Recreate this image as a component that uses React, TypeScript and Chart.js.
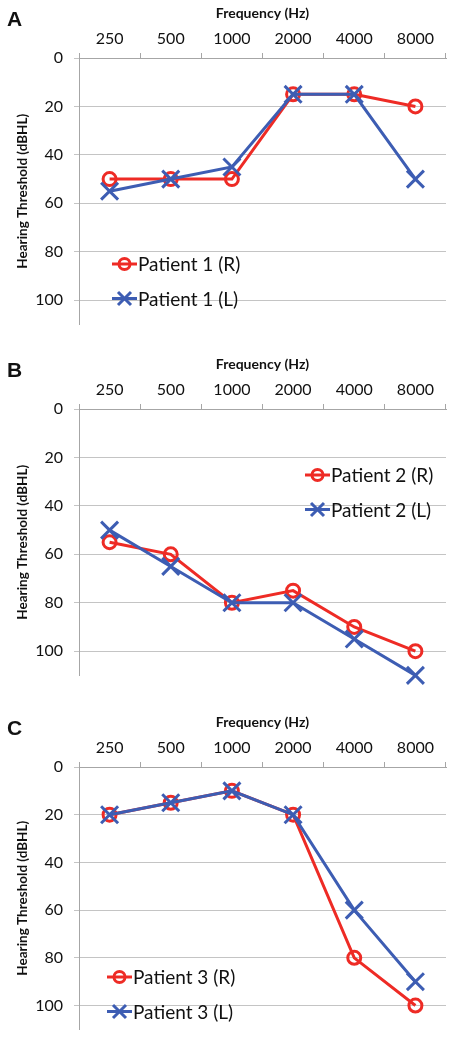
import React, { useEffect, useRef } from "react";
import { Chart, registerables } from "chart.js";

Chart.register(...registerables);

const frequencies = ["250", "500", "1000", "2000", "4000", "8000"];
const yTicks = [0, 20, 40, 60, 80, 100];

const patient1Right = [50, 50, 50, 15, 15, 20];
const patient1Left = [55, 50, 45, 15, 15, 50];
const patient2Right = [55, 60, 80, 75, 90, 100];
const patient2Left = [50, 65, 80, 80, 95, 110];
const patient3Right = [20, 15, 10, 20, 80, 100];
const patient3Left = [20, 15, 10, 20, 60, 90];

const RED = "#ee2b25";
const BLUE = "#3d5db3";
const FONT = "Lato, 'Open Sans', sans-serif";

type PanelCfg = {
  letter: string;
  top: number;
  height: number;
  right: number[];
  left: number[];
  names: [string, string];
  legendX: number;
  legendY: number;
};

const panels: PanelCfg[] = [
  { letter: "A", top: 0, height: 345, right: patient1Right, left: patient1Left, names: ["Patient 1 (R)", "Patient 1 (L)"], legendX: 33, legendY: 206 },
  { letter: "B", top: 351, height: 345, right: patient2Right, left: patient2Left, names: ["Patient 2 (R)", "Patient 2 (L)"], legendX: 226, legendY: 66 },
  { letter: "C", top: 709, height: 341, right: patient3Right, left: patient3Left, names: ["Patient 3 (R)", "Patient 3 (L)"], legendX: 28, legendY: 210 },
];

const legendPlugin = {
  id: "insideLegend",
  afterDraw(chart: any, _args: any, opts: any) {
    const { ctx, chartArea } = chart;
    const x0 = chartArea.left + opts.x;
    let y = chartArea.top + opts.y;
    const order = [1, 0];
    order.forEach((di: number) => {
      const ds = chart.data.datasets[di];
      ctx.save();
      ctx.strokeStyle = ds.borderColor;
      ctx.lineWidth = 3;
      ctx.beginPath();
      ctx.moveTo(x0, y);
      ctx.lineTo(x0 + 25, y);
      ctx.stroke();
      const cx = x0 + 12.5;
      ctx.beginPath();
      if (ds.pointStyle === "circle") {
        ctx.arc(cx, y, 5.5, 0, Math.PI * 2);
      } else {
        const r = 6.5;
        ctx.moveTo(cx - r, y - r);
        ctx.lineTo(cx + r, y + r);
        ctx.moveTo(cx + r, y - r);
        ctx.lineTo(cx - r, y + r);
      }
      ctx.stroke();
      ctx.fillStyle = "#111";
      ctx.font = `19px ${FONT}`;
      ctx.textAlign = "left";
      ctx.textBaseline = "middle";
      ctx.fillText(ds.label, x0 + 26, y + 1);
      ctx.restore();
      y += 34.5;
    });
  },
};

function Panel({ cfg }: { cfg: PanelCfg }) {
  const ref = useRef<HTMLCanvasElement | null>(null);
  useEffect(() => {
    if (!ref.current) return;
    const chart = new Chart(ref.current, {
      type: "line",
      data: {
        labels: frequencies,
        datasets: [
          {
            label: cfg.names[1],
            data: cfg.left,
            borderColor: BLUE,
            backgroundColor: BLUE,
            borderWidth: 3,
            pointStyle: "crossRot",
            pointRadius: 12,
            pointBorderWidth: 3,
            pointBorderColor: BLUE,
            tension: 0,
            clip: false,
          },
          {
            label: cfg.names[0],
            data: cfg.right,
            borderColor: RED,
            backgroundColor: "rgba(0,0,0,0)",
            borderWidth: 3,
            pointStyle: "circle",
            pointRadius: 6.5,
            pointBorderWidth: 3,
            pointBorderColor: RED,
            pointBackgroundColor: "rgba(0,0,0,0)",
            tension: 0,
            clip: false,
          },
        ],
      },
      options: {
        animation: false,
        responsive: false,
        maintainAspectRatio: false,
        layout: { padding: { left: 0, top: 0, right: 10, bottom: cfg.height - 58 - 275 } },
        plugins: {
          legend: { display: false },
          tooltip: { enabled: false },
          insideLegend: { x: cfg.legendX, y: cfg.legendY },
        } as any,
        scales: {
          x: {
            position: "top",
            offset: true,
            afterFit: (s: any) => {
              s.height = 58;
            },
            grid: {
              offset: true,
              drawOnChartArea: false,
              drawTicks: true,
              tickLength: 5,
              color: "#a6a6a6",
            },
            border: { display: true, color: "#a6a6a6" },
            ticks: {
              color: "#111",
              font: { family: FONT, size: 16 },
              padding: 5,
              maxRotation: 0,
            },
            title: {
              display: true,
              text: "Frequency (Hz)",
              color: "#111",
              font: { family: FONT, size: 14, weight: "bold" },
              padding: { top: 5, bottom: 0 },
            },
          },
          y: {
            reverse: true,
            min: 0,
            max: 110,
            afterFit: (s: any) => {
              s.width = 79;
            },
            afterBuildTicks: (s: any) => {
              s.ticks = yTicks.map((v) => ({ value: v }));
            },
            grid: {
              color: "#c4c4c4",
              drawTicks: true,
              tickLength: 5,
              lineWidth: 1,
            },
            border: { display: true, color: "#a6a6a6" },
            ticks: {
              color: "#111",
              font: { family: FONT, size: 16 },
              padding: 11,
            },
            title: {
              display: true,
              text: "Hearing Threshold (dBHL)",
              color: "#111",
              font: { family: FONT, size: 13.5, weight: "bold" },
              padding: { top: 15, bottom: 0 },
            },
          },
        },
      },
      plugins: [legendPlugin],
    });
    return () => chart.destroy();
  }, [cfg]);

  return (
    <div style={{ position: "absolute", left: 0, top: cfg.top, width: 461, height: cfg.height }}>
      <canvas ref={ref} width={461} height={cfg.height} style={{ width: 461, height: cfg.height, display: "block" }} />
      <div
        style={{
          position: "absolute",
          left: 7,
          top: 7,
          fontFamily: "'Liberation Sans', Arial, sans-serif",
          fontWeight: "bold",
          fontSize: 21,
          lineHeight: "24px",
          color: "#111",
        }}
      >
        {cfg.letter}
      </div>
    </div>
  );
}

export default function App() {
  return (
    <div style={{ position: "absolute", left: 0, top: 0, width: 461, height: 1050, background: "#fff" }}>
      {panels.map((p) => (
        <Panel key={p.letter} cfg={p} />
      ))}
    </div>
  );
}
